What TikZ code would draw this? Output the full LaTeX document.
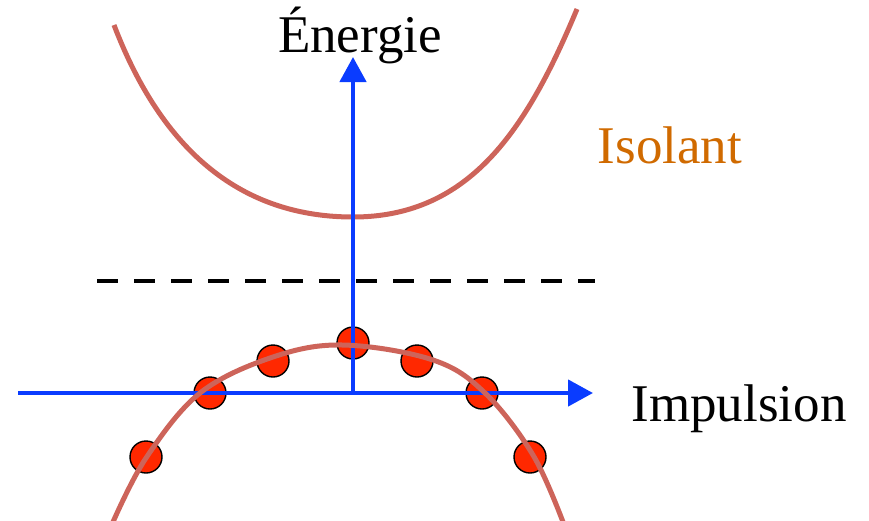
\documentclass[tikz,border=0pt]{standalone}
\usepackage{fontspec}
\setmainfont{Liberation Serif}
\usetikzlibrary{arrows.meta}
\definecolor{axisblue}{RGB}{10,60,255}
\definecolor{bandred}{RGB}{205,100,90}
\definecolor{dotred}{RGB}{255,40,0}
\definecolor{labelorange}{RGB}{208,106,0}
\tikzset{
  band/.style={draw=bandred, line width=5pt},
  axisline/.style={draw=axisblue, line width=4.5pt, -{Triangle[length=25pt,width=26pt]}},
  fermi/.style={draw=black, line width=4.5pt, dash pattern=on 21pt off 16pt},
  electron/.style={circle, draw=black, line width=1.4pt, fill=dotred, minimum size=32pt, inner sep=0pt},
  lbl/.style={inner sep=0pt, anchor=base, font=\fontsize{53}{60}\selectfont},
}
\begin{document}
\begin{tikzpicture}[x=1pt,y=-1pt]
\useasboundingbox (0,0) rectangle (869,520);
% conduction band
\coordinate (cl) at (114,25);
\coordinate (cm) at (353,217);
\coordinate (cr) at (577,9);
\draw[band] (cl) .. controls (166,161) and (250,217) .. (cm)
            .. controls (470,217) and (527,129) .. (cr);
% dashed level
\coordinate (dl) at (97,281);
\coordinate (dr) at (595,281);
\draw[fermi] (dl) -- (dr);
% electrons
\node[electron] (e1) at (146,457) {};
\node[electron] (e2) at (210,393) {};
\node[electron] (e3) at (273,361) {};
\node[electron] (e4) at (353,343) {};
\node[electron] (e5) at (417,361) {};
\node[electron] (e6) at (482,393) {};
\node[electron] (e7) at (530,457) {};
% axes
\coordinate (o) at (353,393);
\coordinate (hs) at (18,393);
\coordinate (he) at (593,393);
\coordinate (ve) at (353,57);
\draw[axisline] (hs) -- (he);
\draw[axisline] (o) -- (ve);
% valence band
\draw[band] plot[smooth, tension=0.6] coordinates {(113,522) (146,458) (200,393) (273,357) (343,345) (433,360) (485,393) (533,455) (563,522)};
% labels
\node[lbl] (en) at (360,52) {Énergie};
\node[lbl, text=labelorange] (iso) at (670,163) {Isolant};
\node[lbl] (imp) at (739,421) {Impulsion};
\end{tikzpicture}
\end{document}
